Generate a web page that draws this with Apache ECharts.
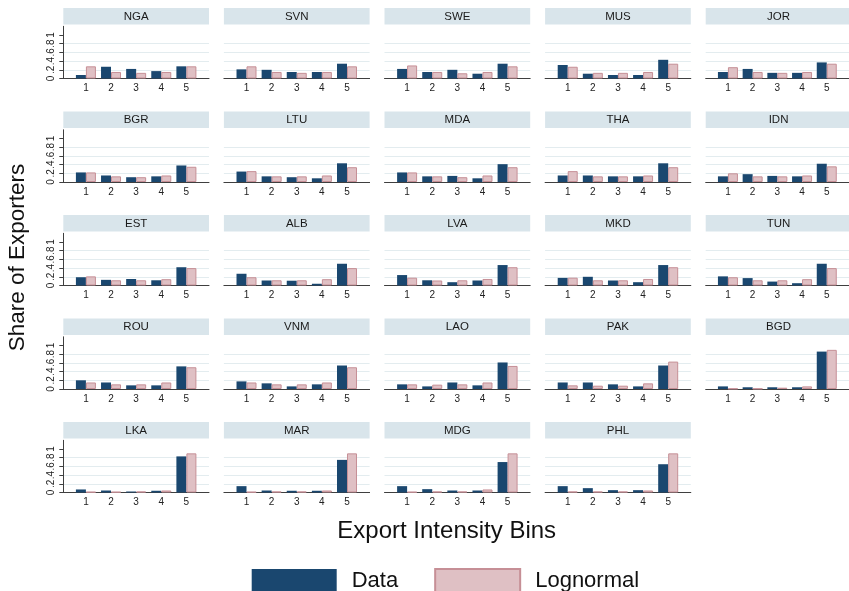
<!DOCTYPE html>
<html>
<head>
<meta charset="utf-8">
<script src="https://cdn.jsdelivr.net/npm/echarts@6/dist/echarts.min.js"></script>
<style>
  html, body { margin: 0; padding: 0; background: #ffffff; }
  #chart { width: 849px; height: 591px; }
</style>
</head>
<body>
<div id="chart"></div>
<script>
// Countries, laid out row by row (five panels per row)
const countries = [
  'NGA', 'SVN', 'SWE', 'MUS', 'JOR',
  'BGR', 'LTU', 'MDA', 'THA', 'IDN',
  'EST', 'ALB', 'LVA', 'MKD', 'TUN',
  'ROU', 'VNM', 'LAO', 'PAK', 'BGD',
  'LKA', 'MAR', 'MDG', 'PHL'
];

// Export intensity bins shown on each panel's x axis
const bins = [1, 2, 3, 4, 5];

// Observed share of exporters per bin (same order as countries)
const dataShare = [
  [0.08, 0.27, 0.22, 0.17, 0.28],
  [0.21, 0.20, 0.15, 0.15, 0.34],
  [0.22, 0.15, 0.20, 0.11, 0.34],
  [0.31, 0.11, 0.08, 0.08, 0.43],
  [0.15, 0.22, 0.13, 0.13, 0.37],
  [0.22, 0.15, 0.11, 0.13, 0.38],
  [0.24, 0.13, 0.11, 0.085, 0.43],
  [0.22, 0.13, 0.14, 0.085, 0.41],
  [0.15, 0.15, 0.13, 0.13, 0.43],
  [0.13, 0.18, 0.14, 0.13, 0.42],
  [0.19, 0.13, 0.15, 0.12, 0.42],
  [0.27, 0.115, 0.11, 0.04, 0.50],
  [0.24, 0.12, 0.076, 0.115, 0.47],
  [0.175, 0.20, 0.115, 0.076, 0.47],
  [0.21, 0.17, 0.09, 0.053, 0.50],
  [0.20, 0.15, 0.084, 0.084, 0.52],
  [0.175, 0.13, 0.06, 0.107, 0.54],
  [0.107, 0.06, 0.15, 0.084, 0.61],
  [0.15, 0.15, 0.107, 0.06, 0.54],
  [0.06, 0.04, 0.04, 0.04, 0.86],
  [0.07, 0.046, 0.023, 0.04, 0.83],
  [0.146, 0.046, 0.04, 0.04, 0.75],
  [0.146, 0.077, 0.046, 0.046, 0.70],
  [0.146, 0.10, 0.054, 0.054, 0.65]
];

// Share predicted by the fitted lognormal distribution
const lognormalShare = [
  [0.28, 0.15, 0.13, 0.15, 0.28],
  [0.28, 0.15, 0.13, 0.15, 0.28],
  [0.30, 0.15, 0.12, 0.15, 0.28],
  [0.27, 0.13, 0.13, 0.15, 0.34],
  [0.26, 0.15, 0.13, 0.15, 0.34],
  [0.22, 0.13, 0.11, 0.15, 0.35],
  [0.25, 0.13, 0.13, 0.15, 0.34],
  [0.22, 0.13, 0.11, 0.15, 0.34],
  [0.25, 0.13, 0.13, 0.15, 0.34],
  [0.20, 0.13, 0.13, 0.15, 0.36],
  [0.21, 0.12, 0.12, 0.145, 0.40],
  [0.19, 0.12, 0.12, 0.145, 0.40],
  [0.18, 0.115, 0.12, 0.15, 0.42],
  [0.18, 0.12, 0.12, 0.15, 0.42],
  [0.19, 0.12, 0.12, 0.145, 0.40],
  [0.15, 0.107, 0.107, 0.15, 0.50],
  [0.15, 0.107, 0.107, 0.15, 0.50],
  [0.107, 0.10, 0.107, 0.15, 0.53],
  [0.084, 0.076, 0.076, 0.13, 0.63],
  [0.01, 0.01, 0.03, 0.06, 0.90],
  [0.015, 0.015, 0.023, 0.046, 0.90],
  [0.015, 0.023, 0.023, 0.046, 0.90],
  [0.015, 0.023, 0.023, 0.07, 0.90],
  [0.023, 0.023, 0.023, 0.046, 0.90]
];

// Y axis tick values
const yTicks = [0, 0.2, 0.4, 0.6, 0.8, 1];

const FONT = '"Liberation Sans", Arial, Helvetica, sans-serif';
const NAVY = '#1a476f';
const PINK = '#dfc0c4';
const PINK_EDGE = '#c68f96';
const STRIP = '#d9e5eb';
const GRIDLINE = '#e3ecef';
const AXIS = '#3f3f3f';

// Panel geometry
const COLS = 5;
const PANEL_LEFT = 63.3, PANEL_PITCH_X = 160.6, PANEL_W = 145.7;
const STRIP_TOP = 8, PANEL_PITCH_Y = 103.5, STRIP_H = 16.5;
const BASE_OFFSET = 70.5, PLOT_H = 52.2;

const grids = [], xAxes = [], yAxes = [], series = [], graphics = [];

function tickText(v) {
  if (v === 0) return '0';
  if (v >= 1) return '1';
  return String(+v.toFixed(1)).replace(/^0/, '');
}

countries.forEach((name, i) => {
  const r = Math.floor(i / COLS), c = i % COLS;
  const left = PANEL_LEFT + c * PANEL_PITCH_X;
  const stripTop = STRIP_TOP + r * PANEL_PITCH_Y;
  const base = stripTop + BASE_OFFSET;
  const firstCol = c === 0;

  grids.push({ left: left, top: base - PLOT_H, width: PANEL_W, height: PLOT_H });

  xAxes.push({
    type: 'value', gridIndex: i, min: 0.1, max: 5.9,
    axisLine: { show: true, onZero: false, lineStyle: { color: AXIS, width: 1 } },
    axisTick: { show: false },
    splitLine: { show: false },
    axisLabel: {
      customValues: bins, fontSize: 10, color: '#222', margin: 5, fontFamily: FONT
    }
  });

  yAxes.push({
    type: 'value', gridIndex: i, min: 0, max: 1.2, interval: 0.2,
    axisLine: { show: firstCol, lineStyle: { color: AXIS, width: 1 } },
    axisTick: { show: firstCol, length: 4, customValues: yTicks, lineStyle: { color: AXIS } },
    axisLabel: {
      show: firstCol, customValues: yTicks, rotate: 90, fontSize: 10,
      color: '#222', margin: 7, fontFamily: FONT, formatter: tickText
    },
    splitLine: {
      show: true, showMinLine: false, showMaxLine: false,
      lineStyle: { color: GRIDLINE, width: 1 }
    }
  });

  series.push({
    name: 'Data', type: 'bar', xAxisIndex: i, yAxisIndex: i,
    barWidth: 10, barGap: '0%',
    itemStyle: { color: NAVY },
    emphasis: { disabled: true },
    data: bins.map((b, k) => [b, dataShare[i][k]])
  });
  series.push({
    name: 'Lognormal', type: 'bar', xAxisIndex: i, yAxisIndex: i,
    barWidth: 10, barGap: '0%',
    itemStyle: { color: PINK, borderColor: PINK_EDGE, borderWidth: 1 },
    emphasis: { disabled: true },
    data: bins.map((b, k) => [b, lognormalShare[i][k]])
  });

  // Title strip above each panel
  graphics.push({
    type: 'rect', silent: true,
    shape: { x: left, y: stripTop, width: PANEL_W, height: STRIP_H },
    style: { fill: STRIP }
  });
  graphics.push({
    type: 'text', silent: true,
    x: left + PANEL_W / 2, y: stripTop + STRIP_H / 2 + 0.5,
    style: {
      text: name, fill: '#1a1a1a', fontSize: 11.5, fontFamily: FONT,
      align: 'center', verticalAlign: 'middle',
      textAlign: 'center', textVerticalAlign: 'middle'
    }
  });
});

// Overall axis titles
graphics.push({
  type: 'text', silent: true, x: 446.7, y: 531,
  style: {
    text: 'Export Intensity Bins', fill: '#111', fontSize: 24, fontFamily: FONT,
    align: 'center', verticalAlign: 'middle', textAlign: 'center', textVerticalAlign: 'middle'
  }
});
graphics.push({
  type: 'text', silent: true, x: 17.5, y: 257.5, rotation: Math.PI / 2,
  style: {
    text: 'Share of Exporters', fill: '#111', fontSize: 22.5, fontFamily: FONT,
    align: 'center', verticalAlign: 'middle', textAlign: 'center', textVerticalAlign: 'middle'
  }
});

const chart = echarts.init(document.getElementById('chart'), null, { renderer: 'canvas' });
chart.setOption({
  animation: false,
  backgroundColor: '#ffffff',
  textStyle: { fontFamily: FONT },
  grid: grids,
  xAxis: xAxes,
  yAxis: yAxes,
  series: series,
  graphic: graphics,
  legend: {
    data: ['Data', 'Lognormal'],
    left: 251.7, top: 568, padding: 0,
    itemWidth: 85, itemHeight: 24, itemGap: 36,
    icon: 'rect',
    textStyle: { fontSize: 22, color: '#111', fontFamily: FONT, padding: [0, 0, 0, 10] }
  }
});
</script>
</body>
</html>
